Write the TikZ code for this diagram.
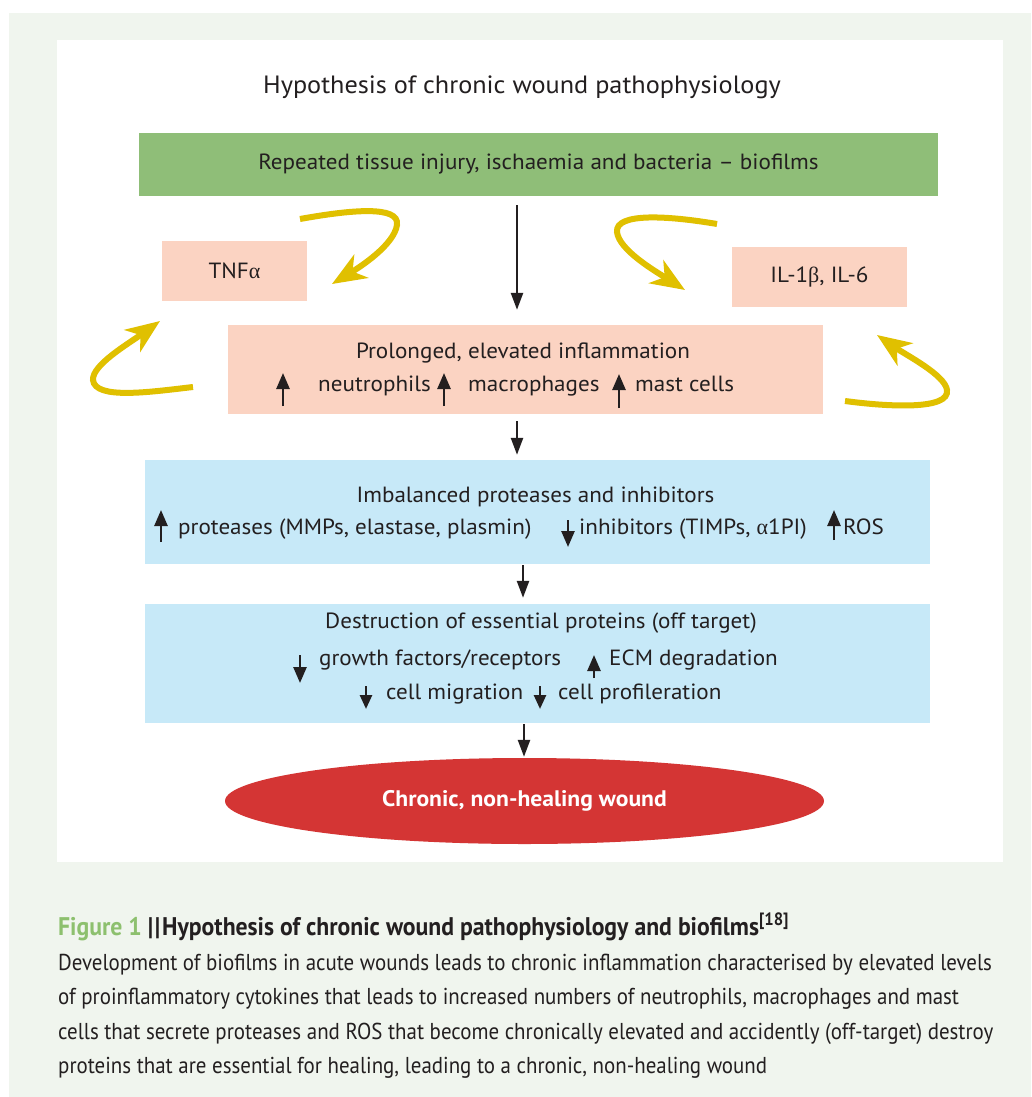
\documentclass[tikz,border=0pt]{standalone}
\usepackage{fontspec}
\setmainfont[FakeStretch=1.05]{PT Sans}
\newfontfamily\capfont[FakeStretch=0.91]{PT Sans}
\newfontfamily\capheadfont[FakeStretch=0.93]{PT Sans}
\newfontfamily\grkfont{Liberation Serif}
\usetikzlibrary{arrows.meta,shapes.geometric}
\definecolor{bgout}{HTML}{F0F5EE}
\definecolor{greenbox}{HTML}{8FBE78}
\definecolor{pinkbox}{HTML}{FBD3C2}
\definecolor{bluebox}{HTML}{C7E9F8}
\definecolor{redc}{HTML}{D43534}
\definecolor{yellowc}{HTML}{E0C000}
\definecolor{figgreen}{HTML}{8DC06E}
\definecolor{textdark}{HTML}{231F20}
\begin{document}
\begin{tikzpicture}[x=1pt,y=-1pt,
  box/.style={rectangle, inner sep=0pt, text=textdark, font=\fontsize{22}{26}\selectfont},
  txt/.style={inner sep=0pt, text=textdark, font=\fontsize{22}{26}\selectfont},
  flow/.style={draw=textdark, line width=2.5pt, -{Triangle[length=17pt,width=12pt]}},
  sarrow/.style={draw=textdark, line width=2.6pt, -{Triangle[length=16pt,width=13pt]}},
  tarrow/.style={draw=textdark, line width=2.6pt, -{Triangle[length=14pt,width=12pt]}},
  ycurve/.style={draw=yellowc, line width=6pt, -{Stealth[length=34pt,width=27pt,inset=10pt]}},
  captxt/.style={anchor=base west, inner sep=0pt, text=textdark, font=\capfont\fontsize{23}{28}\selectfont}
]
\useasboundingbox (0,0) rectangle (1031,1097);
\fill[white] (0,0) rectangle (1031,1097);
\fill[bgout] (9,13) rectangle (1031,1097);
\fill[white] (57,40) rectangle (1003,862);

% title
\node[txt, anchor=base, font=\fontsize{25}{29}\selectfont] (title) at (522,94) {Hypothesis of chronic wound pathophysiology};

% boxes
\node[box, fill=greenbox, minimum width=799pt, minimum height=63pt] (green) at (538.5,164.5) {Repeated tissue injury, ischaemia and bacteria – biofilms};
\node[box, fill=pinkbox, minimum width=145pt, minimum height=60pt] (tnf) at (234.5,271) {TNF{\grkfont α}};
\node[box, fill=pinkbox, minimum width=175pt, minimum height=60pt] (il) at (819.5,277) {IL-1{\grkfont β}, IL-6};
\node[box, fill=pinkbox, minimum width=595pt, minimum height=89pt] (inflam) at (525.5,369.5) {};
\node[box, fill=bluebox, minimum width=785pt, minimum height=104pt] (prot) at (537.5,512) {};
\node[box, fill=bluebox, minimum width=785pt, minimum height=119pt] (destr) at (537.5,663.5) {};
\node[ellipse, fill=redc, minimum width=599pt, minimum height=86pt, inner sep=0pt, text=white, font=\bfseries\fontsize{22.5}{26}\selectfont] (wound) at (524.5,801) {Chronic, non-healing wound};

% inflammation text
\node[txt, anchor=base] (i1) at (523,358) {Prolonged, elevated inflammation};
\node[txt, anchor=base west] (i2) at (318,391) {neutrophils};
\node[txt, anchor=base west] (i3) at (468,391) {macrophages};
\node[txt, anchor=base west] (i4) at (635,391) {mast cells};
\draw[sarrow] (283,406) -- (283,373);
\draw[sarrow] (444,406) -- (444,373);
\draw[sarrow] (619,408) -- (619,374);

% protease text
\node[txt, anchor=base] (p1) at (535.5,502) {Imbalanced proteases and inhibitors};
\node[txt, anchor=base west] (p2) at (178,534) {proteases (MMPs, elastase, plasmin)};
\node[txt, anchor=base west] (p3) at (579,534) {inhibitors (TIMPs, {\grkfont α}1PI)};
\node[txt, anchor=base west] (p4) at (843,534) {ROS};
\draw[sarrow] (161,542) -- (161,510);
\draw[sarrow] (568,520) -- (568,547);
\draw[sarrow] (834,540) -- (834,510);

% destruction text
\node[txt, anchor=base] (d1) at (541,628) {Destruction of essential proteins (off target)};
\node[txt, anchor=base west] (d2) at (319,665) {growth factors/receptors};
\node[txt, anchor=base west] (d3) at (609,665) {ECM degradation};
\node[txt, anchor=base west] (d4) at (386,699) {cell migration};
\node[txt, anchor=base west] (d5) at (558,699) {cell profileration};
\draw[sarrow] (300,655) -- (300,683);
\draw[sarrow] (594,678) -- (594,655);
\draw[tarrow] (366,686) -- (366,709);
\draw[tarrow] (540,686) -- (540,709);

% flow arrows
\coordinate (c1) at (517,0);
\coordinate (c3) at (523,0);
\coordinate (c4) at (524,0);
\draw[flow, shorten <=9pt, shorten >=15pt] (green.south -| c1) -- (inflam.north -| c1);
\draw[flow, shorten <=7pt, shorten >=5pt] (inflam.south -| c1) -- (prot.north -| c1);
\draw[flow, shorten <=1pt, shorten >=6pt] (prot.south -| c3) -- (destr.north -| c3);
\draw[flow, shorten <=1pt, shorten >=1pt] (destr.south -| c4) -- (wound.north -| c4);

% yellow curved arrows
\draw[ycurve] (300,219) .. controls (350,210) and (400,205) .. (397,225) .. controls (394,245) and (360,267) .. (332,284);
\draw[ycurve] (193,387) .. controls (150,392) and (95,400) .. (93,380) .. controls (92,365) and (128,344) .. (160,321);
\draw[ycurve] (717,224) .. controls (670,216) and (615,212) .. (617,232) .. controls (619,250) and (655,271) .. (685,290);
\draw[ycurve] (845,401) .. controls (890,407) and (950,410) .. (947,390) .. controls (945,375) and (906,355) .. (877,335);

% caption
\node[captxt, font=\capheadfont\bfseries\fontsize{25.5}{30}\selectfont] (cap0) at (58,935) {{\color{figgreen}Figure 1} |\kern1.5pt|\kern2pt Hypothesis of chronic wound pathophysiology and biofilms\textsuperscript{[18]}};
\node[captxt] (cap1) at (58,970) {Development of biofilms in acute wounds leads to chronic inflammation characterised by elevated levels};
\node[captxt] (cap2) at (58,1004) {of proinflammatory cytokines that leads to increased numbers of neutrophils, macrophages and mast};
\node[captxt] (cap3) at (58,1039) {cells that secrete proteases and ROS that become chronically elevated and accidently (off-target) destroy};
\node[captxt] (cap4) at (58,1073) {proteins that are essential for healing, leading to a chronic, non-healing wound};
\end{tikzpicture}
\end{document}
